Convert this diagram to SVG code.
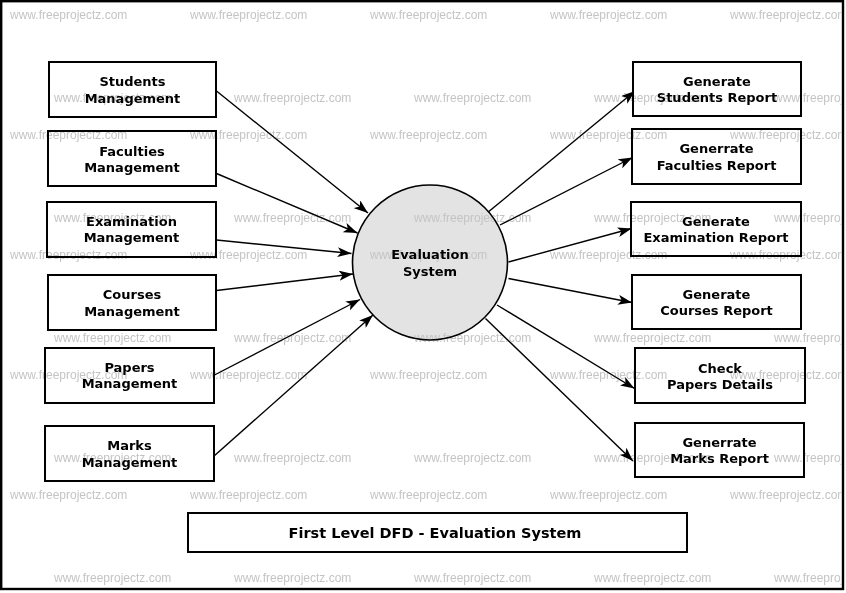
<svg xmlns="http://www.w3.org/2000/svg" width="846" height="593" viewBox="0 0 846 593">
  <defs>
    <style>
      .box { fill: #ffffff; stroke: #000000; stroke-width: 2; }
      .proc { fill: #e3e3e3; stroke: #000000; stroke-width: 1.6; }
      .lbl { font-family: "DejaVu Sans", "Liberation Sans", sans-serif; font-weight: bold; font-size: 13px; fill: #000000; text-anchor: middle; }
      .title { font-family: "DejaVu Sans", "Liberation Sans", sans-serif; font-weight: bold; font-size: 14.5px; fill: #000000; text-anchor: middle; }
      .flow { fill: none; stroke: #000000; stroke-width: 1.4; marker-end: url(#arrow); }
      .wm { font-family: "Liberation Sans", Arial, sans-serif; font-size: 12px; fill: #c4c4c4; }
    </style>
    <marker id="arrow" viewBox="0 0 14 10" refX="14" refY="5" markerWidth="14" markerHeight="10" markerUnits="userSpaceOnUse" orient="auto">
      <path d="M0,0 L14,5 L0,10 L3.5,5 Z" fill="#000000"/>
    </marker>
    <clipPath id="frame">
      <rect x="2" y="2" width="840" height="586"/>
    </clipPath>
  </defs>

  <rect x="0" y="0" width="846" height="593" fill="#ffffff"/>
  <rect x="1.2" y="1.2" width="841.8" height="587.8" fill="none" stroke="#000000" stroke-width="2.4"/>

  <g id="connectors">
    <line class="flow" x1="216.5" y1="91" x2="368" y2="213"/>
    <line class="flow" x1="216.5" y1="173.5" x2="357.5" y2="233"/>
    <line class="flow" x1="216.5" y1="240" x2="351.5" y2="253.5"/>
    <line class="flow" x1="216.5" y1="290.5" x2="353" y2="274"/>
    <line class="flow" x1="214.5" y1="375" x2="360" y2="299.5"/>
    <line class="flow" x1="213.5" y1="456.5" x2="373" y2="315"/>
    <line class="flow" x1="487" y1="213" x2="635" y2="91"/>
    <line class="flow" x1="500" y1="225" x2="632.5" y2="157.5"/>
    <line class="flow" x1="508.5" y1="262" x2="631.5" y2="228.5"/>
    <line class="flow" x1="508.5" y1="278.5" x2="632" y2="302.5"/>
    <line class="flow" x1="497" y1="305" x2="634.5" y2="388.5"/>
    <line class="flow" x1="485.5" y1="318.5" x2="633" y2="461"/>
  </g>

  <g id="students-management">
    <rect class="box" x="49" y="62" width="167" height="55"/>
    <text class="lbl" x="132.5" y="86">Students</text>
    <text class="lbl" x="132.5" y="102.5">Management</text>
  </g>
  <g id="faculties-management">
    <rect class="box" x="48" y="131" width="168" height="55"/>
    <text class="lbl" x="132" y="156">Faculties</text>
    <text class="lbl" x="132" y="172">Management</text>
  </g>
  <g id="examination-management">
    <rect class="box" x="47" y="202" width="169" height="55"/>
    <text class="lbl" x="131.5" y="226">Examination</text>
    <text class="lbl" x="131.5" y="242">Management</text>
  </g>
  <g id="courses-management">
    <rect class="box" x="48" y="275" width="168" height="55"/>
    <text class="lbl" x="132" y="299">Courses</text>
    <text class="lbl" x="132" y="315.5">Management</text>
  </g>
  <g id="papers-management">
    <rect class="box" x="45" y="348" width="169" height="55"/>
    <text class="lbl" x="129.5" y="372">Papers</text>
    <text class="lbl" x="129.5" y="388">Management</text>
  </g>
  <g id="marks-management">
    <rect class="box" x="45" y="426" width="169" height="55"/>
    <text class="lbl" x="129.5" y="450">Marks</text>
    <text class="lbl" x="129.5" y="467">Management</text>
  </g>

  <g id="evaluation-system">
    <circle class="proc" cx="430" cy="262.5" r="77.5"/>
    <text class="lbl" x="430" y="259">Evaluation</text>
    <text class="lbl" x="430" y="275.5">System</text>
  </g>

  <g id="generate-students-report">
    <rect class="box" x="633" y="62" width="168" height="54"/>
    <text class="lbl" x="717" y="86">Generate</text>
    <text class="lbl" x="717" y="102">Students Report</text>
  </g>
  <g id="generrate-faculties-report">
    <rect class="box" x="632" y="129" width="169" height="55"/>
    <text class="lbl" x="716.5" y="153">Generrate</text>
    <text class="lbl" x="716.5" y="170">Faculties Report</text>
  </g>
  <g id="generate-examination-report">
    <rect class="box" x="631" y="202" width="170" height="54"/>
    <text class="lbl" x="716" y="226">Generate</text>
    <text class="lbl" x="716" y="242">Examination Report</text>
  </g>
  <g id="generate-courses-report">
    <rect class="box" x="632" y="275" width="169" height="54"/>
    <text class="lbl" x="716.5" y="299">Generate</text>
    <text class="lbl" x="716.5" y="315">Courses Report</text>
  </g>
  <g id="check-papers-details">
    <rect class="box" x="635" y="348" width="170" height="55"/>
    <text class="lbl" x="720" y="373">Check</text>
    <text class="lbl" x="720" y="389">Papers Details</text>
  </g>
  <g id="generrate-marks-report">
    <rect class="box" x="635" y="423" width="169" height="54"/>
    <text class="lbl" x="719.5" y="447">Generrate</text>
    <text class="lbl" x="719.5" y="463">Marks Report</text>
  </g>

  <g id="diagram-title">
    <rect class="box" x="188" y="513" width="499" height="39"/>
    <text class="title" x="435" y="538">First Level DFD - Evaluation System</text>
  </g>

  <g id="watermark" clip-path="url(#frame)" style="mix-blend-mode:darken">
    <text class="wm" x="10" y="19">www.freeprojectz.com</text>
    <text class="wm" x="190" y="19">www.freeprojectz.com</text>
    <text class="wm" x="370" y="19">www.freeprojectz.com</text>
    <text class="wm" x="550" y="19">www.freeprojectz.com</text>
    <text class="wm" x="730" y="19">www.freeprojectz.com</text>
    <text class="wm" x="54" y="102">www.freeprojectz.com</text>
    <text class="wm" x="234" y="102">www.freeprojectz.com</text>
    <text class="wm" x="414" y="102">www.freeprojectz.com</text>
    <text class="wm" x="594" y="102">www.freeprojectz.com</text>
    <text class="wm" x="774" y="102">www.freeprojectz.com</text>
    <text class="wm" x="10" y="139">www.freeprojectz.com</text>
    <text class="wm" x="190" y="139">www.freeprojectz.com</text>
    <text class="wm" x="370" y="139">www.freeprojectz.com</text>
    <text class="wm" x="550" y="139">www.freeprojectz.com</text>
    <text class="wm" x="730" y="139">www.freeprojectz.com</text>
    <text class="wm" x="54" y="222">www.freeprojectz.com</text>
    <text class="wm" x="234" y="222">www.freeprojectz.com</text>
    <text class="wm" x="414" y="222">www.freeprojectz.com</text>
    <text class="wm" x="594" y="222">www.freeprojectz.com</text>
    <text class="wm" x="774" y="222">www.freeprojectz.com</text>
    <text class="wm" x="10" y="259">www.freeprojectz.com</text>
    <text class="wm" x="190" y="259">www.freeprojectz.com</text>
    <text class="wm" x="370" y="259">www.freeprojectz.com</text>
    <text class="wm" x="550" y="259">www.freeprojectz.com</text>
    <text class="wm" x="730" y="259">www.freeprojectz.com</text>
    <text class="wm" x="54" y="342">www.freeprojectz.com</text>
    <text class="wm" x="234" y="342">www.freeprojectz.com</text>
    <text class="wm" x="414" y="342">www.freeprojectz.com</text>
    <text class="wm" x="594" y="342">www.freeprojectz.com</text>
    <text class="wm" x="774" y="342">www.freeprojectz.com</text>
    <text class="wm" x="10" y="379">www.freeprojectz.com</text>
    <text class="wm" x="190" y="379">www.freeprojectz.com</text>
    <text class="wm" x="370" y="379">www.freeprojectz.com</text>
    <text class="wm" x="550" y="379">www.freeprojectz.com</text>
    <text class="wm" x="730" y="379">www.freeprojectz.com</text>
    <text class="wm" x="54" y="462">www.freeprojectz.com</text>
    <text class="wm" x="234" y="462">www.freeprojectz.com</text>
    <text class="wm" x="414" y="462">www.freeprojectz.com</text>
    <text class="wm" x="594" y="462">www.freeprojectz.com</text>
    <text class="wm" x="774" y="462">www.freeprojectz.com</text>
    <text class="wm" x="10" y="499">www.freeprojectz.com</text>
    <text class="wm" x="190" y="499">www.freeprojectz.com</text>
    <text class="wm" x="370" y="499">www.freeprojectz.com</text>
    <text class="wm" x="550" y="499">www.freeprojectz.com</text>
    <text class="wm" x="730" y="499">www.freeprojectz.com</text>
    <text class="wm" x="54" y="582">www.freeprojectz.com</text>
    <text class="wm" x="234" y="582">www.freeprojectz.com</text>
    <text class="wm" x="414" y="582">www.freeprojectz.com</text>
    <text class="wm" x="594" y="582">www.freeprojectz.com</text>
    <text class="wm" x="774" y="582">www.freeprojectz.com</text>
  </g>
</svg>
